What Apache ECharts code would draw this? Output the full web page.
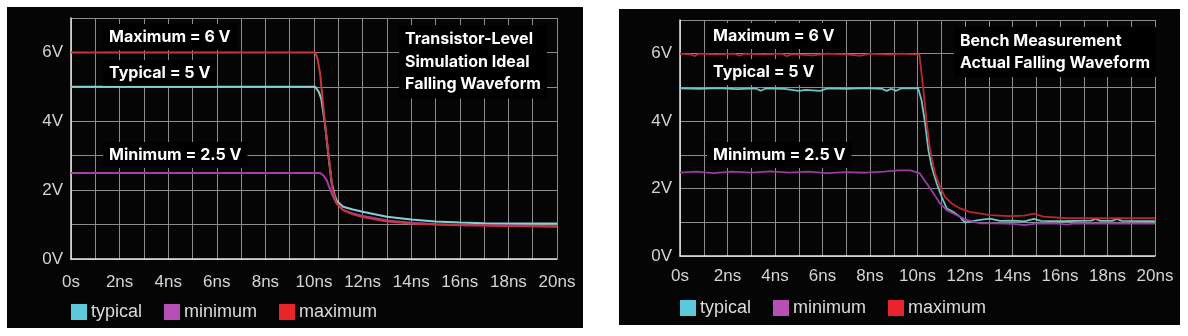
<!DOCTYPE html>
<html>
<head>
<meta charset="utf-8">
<script src="https://cdn.jsdelivr.net/npm/echarts@6/dist/echarts.min.js"></script>
<style>
  html, body { margin: 0; padding: 0; background: #fff; }
  #chart { width: 1188px; height: 336px; }
</style>
</head>
<body>
<div id="chart"></div>
<script>
// time in ns, voltage in V
const simTypical = [[0,5],[10.05,5],[10.2,4.85],[10.3,4.65],[10.45,3.93],[10.6,2.97],[10.73,2.2],[10.85,1.85],[10.95,1.68],[11.2,1.52],[11.6,1.44],[12,1.37],[13,1.23],[14,1.15],[15,1.09],[16,1.06],[17,1.04],[18,1.03],[20,1.03]];
const simMinimum = [[0,2.5],[10.25,2.5],[10.4,2.42],[10.52,2.29],[10.73,1.9],[10.93,1.61],[11.2,1.42],[11.6,1.32],[12,1.25],[13,1.12],[14,1.05],[15,1.01],[16,0.99],[18,0.97],[20,0.95]];
const simMaximum = [[0,6],[10.05,6],[10.15,5.8],[10.25,5.4],[10.45,3.95],[10.6,3.0],[10.77,2.0],[10.93,1.62],[11.2,1.42],[11.6,1.3],[12,1.22],[13,1.09],[14,1.03],[15,1.0],[16,0.98],[18,0.96],[20,0.94]];

const benchTypical = [[0,4.97],[0.8,4.96],[1.6,4.98],[2.4,4.95],[3.2,4.97],[3.4,4.9],[3.6,4.97],[4.4,4.96],[5,4.9],[5.3,4.93],[5.9,4.9],[6.2,4.97],[7,4.96],[7.8,4.98],[8.5,4.96],[8.7,4.9],[8.9,4.96],[9.1,4.9],[9.3,4.97],[10.03,4.97],[10.17,4.62],[10.32,3.93],[10.46,3.14],[10.6,2.64],[10.81,2.15],[11.02,1.75],[11.23,1.41],[11.5,1.31],[11.79,1.16],[12,0.99],[12.2,1.02],[12.63,1.07],[13.05,1.11],[13.47,1.04],[14,1.05],[14.5,1.03],[14.9,1.1],[15.2,1.04],[16,1.03],[17.3,1.05],[17.5,1.1],[17.7,1.04],[18.2,1.04],[18.4,1.1],[18.6,1.04],[20,1.03]];
const benchMinimum = [[0,2.47],[0.7,2.5],[1.4,2.46],[2.2,2.5],[3,2.47],[3.8,2.51],[4.6,2.47],[5.4,2.5],[6.2,2.46],[7,2.49],[7.8,2.47],[8.6,2.5],[9.2,2.54],[9.7,2.54],[10.1,2.45],[10.39,2.15],[10.67,1.86],[10.95,1.56],[11.23,1.36],[11.65,1.21],[12.07,1.07],[12.63,0.97],[13.3,0.97],[14,0.95],[14.5,0.92],[15,0.96],[15.8,0.97],[16.3,0.93],[16.6,0.97],[20,0.96]];
const benchMaximum = [[0,6.0],[0.5,5.97],[0.6,5.93],[0.8,6.0],[1.5,5.98],[2.3,6.0],[2.5,5.94],[2.7,6.0],[3.5,5.98],[4.3,6.0],[4.5,5.93],[4.7,5.99],[5.6,5.95],[6.2,6.0],[7,5.98],[7.6,5.94],[8,6.0],[8.8,5.97],[9.3,6.0],[9.7,5.99],[10.08,5.97],[10.25,4.91],[10.39,3.93],[10.53,3.14],[10.74,2.45],[10.95,2.05],[11.16,1.75],[11.44,1.56],[11.79,1.41],[12.2,1.31],[13.05,1.21],[13.9,1.18],[14.5,1.2],[14.9,1.26],[15.3,1.17],[16.3,1.12],[17,1.12],[18,1.12],[20,1.12]];

const seriesNames = ['typical', 'minimum', 'maximum'];
const legendColors = ['#5ec8dc', '#b551b6', '#e8242b'];
const simColors = ['#86d0d2', '#a53fa8', '#c8353c'];
const benchColors = ['#6cc6c6', '#9b3ba0', '#b8282e'];

const labelFont = 'Liberation Sans, Arial, sans-serif';
const noteFont = 'Inter, sans-serif';

function xAxisFor(gridIndex, margin) {
  return {
    type: 'value', gridIndex: gridIndex, min: 0, max: 20, interval: 1,
    axisLine: { lineStyle: { color: '#e6e6e6', width: 1.5 } },
    axisTick: { show: false },
    splitLine: { lineStyle: { color: '#8c8c8c', width: 1 } },
    axisLabel: {
      color: '#d4d4d4', fontSize: 17, fontFamily: labelFont, margin: margin,
      formatter: v => v % 2 ? '' : (v === 0 ? '0s' : v + 'ns')
    }
  };
}

function yAxisFor(gridIndex) {
  return {
    type: 'value', gridIndex: gridIndex, min: 0, max: 7, interval: 1,
    axisLine: { show: true, lineStyle: { color: '#e6e6e6', width: 1.5 } },
    axisTick: { show: false },
    splitLine: { lineStyle: { color: '#8c8c8c', width: 1 } },
    axisLabel: {
      color: '#d4d4d4', fontSize: 17, fontFamily: labelFont, margin: 8,
      formatter: v => (v % 2 || v > 6) ? '' : v + 'V'
    }
  };
}

function lineSeries(name, data, color, idx, width) {
  return {
    name: name, type: 'line', data: data, xAxisIndex: idx, yAxisIndex: idx,
    showSymbol: false, symbol: 'none', animation: false,
    lineStyle: { color: color, width: width },
    itemStyle: { color: color }
  };
}

// white bold notes on black boxes
function note(text, left, top, lh) {
  return {
    text: text, left: left, top: top, padding: [3, 6],
    backgroundColor: '#000',
    textStyle: { color: '#fff', fontSize: 16, fontWeight: 'bold', fontFamily: noteFont, lineHeight: lh || 20 }
  };
}

function legendAt(left, top) {
  return {
    left: left, top: top, padding: 0, itemGap: 22, itemWidth: 16, itemHeight: 16,
    icon: 'rect', selectedMode: false,
    textStyle: { color: '#dcdcdc', fontSize: 18, fontFamily: labelFont, padding: [0, 0, 0, -1] },
    data: seriesNames.map((n, i) => ({ name: n, itemStyle: { color: legendColors[i] } }))
  };
}

const chart = echarts.init(document.getElementById('chart'));

chart.setOption({
  backgroundColor: '#fff',
  animation: false,
  graphic: [
    { type: 'rect', z: -10, shape: { x: 7, y: 7, width: 576, height: 321 }, style: { fill: '#050505' } },
    { type: 'rect', z: -10, shape: { x: 619, y: 9, width: 561, height: 316 }, style: { fill: '#050505' } }
  ],
  title: [
    note('Maximum = 6 V', 103, 24),
    note('Typical = 5 V', 103, 60),
    note('Minimum = 2.5 V', 103, 142),
    note('Transistor-Level\nSimulation Ideal\nFalling Waveform', 399, 25, 22.5),
    note('Maximum = 6 V', 707, 23),
    note('Typical = 5 V', 707, 59),
    note('Minimum = 2.5 V', 707, 142),
    note('Bench Measurement\nActual Falling Waveform', 954, 27, 22)
  ],
  legend: [legendAt(71, 303), legendAt(680, 299)],
  grid: [
    { left: 71, top: 18, width: 486, height: 241 },
    { left: 680, top: 20, width: 475, height: 236 }
  ],
  xAxis: [xAxisFor(0, 15), xAxisFor(1, 12)],
  yAxis: [yAxisFor(0), yAxisFor(1)],
  series: [
    lineSeries('typical', simTypical, simColors[0], 0, 2),
    lineSeries('minimum', simMinimum, simColors[1], 0, 2),
    lineSeries('maximum', simMaximum, simColors[2], 0, 2),
    lineSeries('typical', benchTypical, benchColors[0], 1, 1.8),
    lineSeries('minimum', benchMinimum, benchColors[1], 1, 1.8),
    lineSeries('maximum', benchMaximum, benchColors[2], 1, 1.8)
  ]
});
</script>
</body>
</html>
